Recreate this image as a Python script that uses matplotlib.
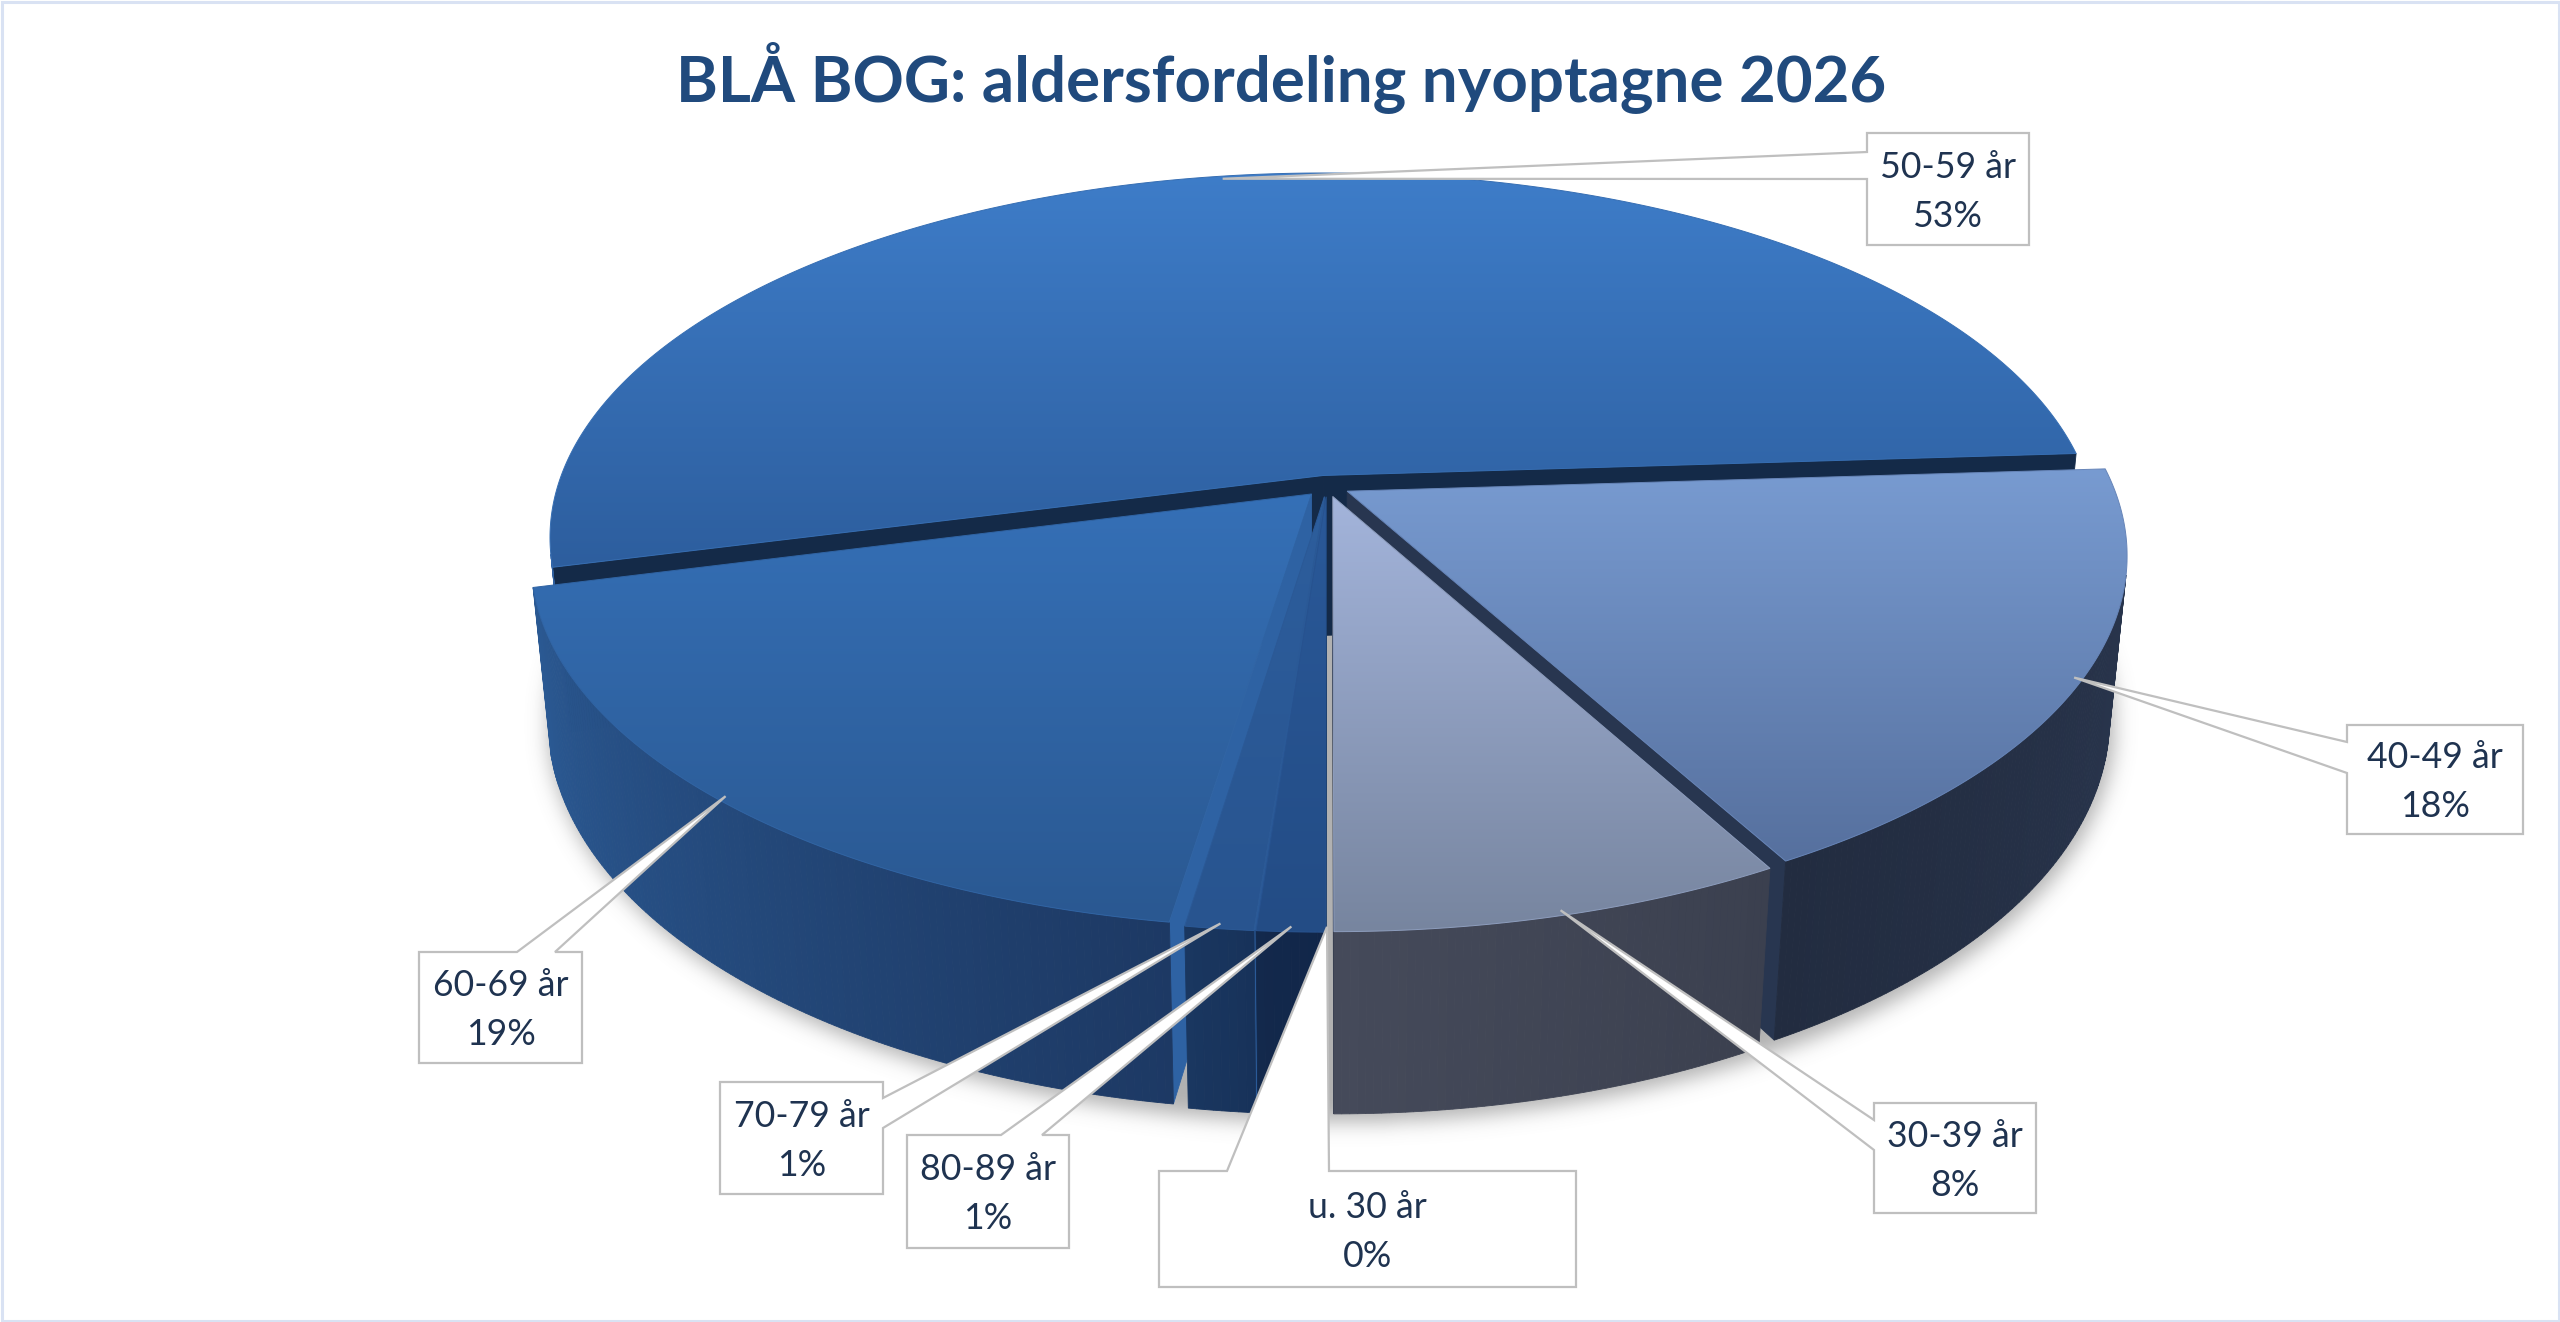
import numpy as np
import matplotlib
matplotlib.use("Agg")
import matplotlib.pyplot as plt
from matplotlib.patches import Polygon, Rectangle
from matplotlib.colors import to_rgb
from matplotlib.path import Path

# ---------------- data ----------------
title = "BLÅ BOG: aldersfordeling nyoptagne 2026"
categories = ["u. 30 år", "30-39 år", "40-49 år", "50-59 år", "60-69 år", "70-79 år", "80-89 år"]
# shares in percent (labels show them rounded)
values = [0, 8, 18, 53, 18.6, 1.2, 1.2]

# ---------------- styles ----------------
top_colors = [("#9fb0d8", "#7a88a6"), ("#a3b4db", "#77859f"), ("#789bd1", "#56709e"),
              ("#3e7dc9", "#2d5e9e"), ("#3570b7", "#2a5891"), ("#2d5e9d", "#28548f"),
              ("#2a5999", "#234c85")]
side_colors = [("#454a5a", "#3b404f"), ("#454a5a", "#3b404f"), ("#222c40", "#2b3851"),
               ("#2f5f9f", "#2f5f9f"), ("#2b5a94", "#1d3964"), ("#1a3760", "#17325a"),
               ("#13294c", "#112649")]
cut_colors = ["#2a3448", "#2a3448", "#283650", "#142a48", "#2e62a3", "#2a5a98", "#133052"]
TEXT_C = "#1f3350"
TITLE_C = "#204a7d"

# label layout: side of box the leader attaches to, box (x0,y0,x1,y1), leader base span
label_side = ["top", "left", "left", "left", "top", "right", "top"]
label_box = [(1159, 1171, 1576, 1287), (1874, 1103, 2036, 1213), (2347, 725, 2523, 834),
             (1867, 133, 2029, 245), (419, 952, 582, 1063), (720, 1082, 883, 1194),
             (907, 1135, 1069, 1248)]
label_base = [(1227, 1329), (1120, 1150), (742, 773), (152, 179), (517, 555),
              (1098, 1128), (1001, 1042)]

W, H = 2560, 1322
fig = plt.figure(figsize=(W / 100, H / 100), dpi=100)
ax = fig.add_axes([0, 0, 1, 1])
ax.set_xlim(0, W)
ax.set_ylim(H, 0)
ax.axis("off")

# ---------------- camera ----------------
ELEV = np.radians(27.8)
DIST = 5.2
FOC = 766 * DIST
CX, CY = 1327, 486
THICK = 0.242
EXPLODE = 0.03
START = -90.0
ce, se = np.cos(ELEV), np.sin(ELEV)
CAM = np.array([0.0, -DIST * ce, DIST * se])


def proj(X, Y, Z):
    X, Y, Z = np.asarray(X, float), np.asarray(Y, float), np.asarray(Z, float)
    ry = Y + DIST * ce
    rz = Z - DIST * se
    depth = ry * ce - rz * se
    yc = ry * se + rz * ce
    return np.stack([CX + FOC * X / depth, CY - FOC * yc / depth], axis=-1)


def lerp(c0, c1, t):
    a, b = np.array(to_rgb(c0)), np.array(to_rgb(c1))
    return tuple((1 - t) * a + t * b)


total = float(sum(values))
edges = START + 360.0 * np.concatenate([[0], np.cumsum(values)]) / total

# ---------------- shadow ----------------
phi = np.radians(np.linspace(0, 360, 361))
sh = proj(1.03 * np.cos(phi), 1.03 * np.sin(phi), -THICK * np.ones_like(phi))
sh[:, 0] += 4
sh[:, 1] += 8
x0s, x1s = int(sh[:, 0].min()) - 60, int(sh[:, 0].max()) + 60
y0s, y1s = int(sh[:, 1].min()) - 60, int(sh[:, 1].max()) + 60
gx, gy = np.meshgrid(np.arange(x0s, x1s, 2), np.arange(y0s, y1s, 2))
mask = Path(sh).contains_points(np.c_[gx.ravel(), gy.ravel()]).reshape(gx.shape).astype(float)
sig = 5.0
ky = np.fft.fftfreq(mask.shape[0])
kx = np.fft.fftfreq(mask.shape[1])
G = np.exp(-2 * (np.pi * sig) ** 2 * (ky[:, None] ** 2 + kx[None, :] ** 2))
blur = np.real(np.fft.ifft2(np.fft.fft2(mask) * G))
rgba = np.zeros(mask.shape + (4,))
rgba[..., :3] = 0.45
rgba[..., 3] = np.clip(blur, 0, 1) * 0.55
ax.imshow(rgba, extent=(x0s, x1s, y1s, y0s), origin="upper", aspect="auto", zorder=1,
          interpolation="bilinear")

# ---------------- pie faces ----------------
faces = []   # (distance, verts, color)
tops = []
anchors = []
for i, v in enumerate(values):
    t1, t2 = edges[i], edges[i + 1]
    mid = np.radians((t1 + t2) / 2)
    ox, oy = EXPLODE * np.cos(mid), EXPLODE * np.sin(mid)
    a = proj(ox + 0.99 * np.cos(mid), oy + 0.99 * np.sin(mid), 0.0)
    anchors.append(a)
    if v <= 0:
        continue
    n = max(3, int((t2 - t1) / 0.5) + 1)
    ang = np.radians(np.linspace(t1, t2, n))
    # outer side segments
    for k in range(n - 1):
        pa, pb = ang[k], ang[k + 1]
        pm = 0.5 * (pa + pb)
        pt = np.array([ox + np.cos(pm), oy + np.sin(pm), -THICK / 2])
        nrm = np.array([np.cos(pm), np.sin(pm), 0.0])
        if np.dot(nrm, CAM - pt) <= 0:
            continue
        X = ox + np.cos([pa, pb, pb, pa])
        Y = oy + np.sin([pa, pb, pb, pa])
        Z = np.array([0, 0, -THICK, -THICK])
        tt = (np.degrees(pm) - t1) / (t2 - t1)
        faces.append((np.linalg.norm(CAM - pt), proj(X, Y, Z),
                      lerp(side_colors[i][0], side_colors[i][1], tt)))
    # radial cut faces
    for tc, sgn in ((t1, -1), (t2, 1)):
        r = np.radians(tc)
        nrm = np.array([np.cos(r + sgn * np.pi / 2), np.sin(r + sgn * np.pi / 2), 0.0])
        pt = np.array([ox + 0.5 * np.cos(r), oy + 0.5 * np.sin(r), -THICK / 2])
        if np.dot(nrm, CAM - pt) <= 0:
            continue
        X = np.array([ox, ox + np.cos(r), ox + np.cos(r), ox])
        Y = np.array([oy, oy + np.sin(r), oy + np.sin(r), oy])
        Z = np.array([0, 0, -THICK, -THICK])
        faces.append((np.linalg.norm(CAM - pt), proj(X, Y, Z), to_rgb(cut_colors[i])))
    # top face
    X = np.concatenate([[ox], ox + np.cos(ang)])
    Y = np.concatenate([[oy], oy + np.sin(ang)])
    tops.append((i, proj(X, Y, np.zeros_like(X))))

z = 2.0
for dist, verts, col in sorted(faces, key=lambda f: -f[0]):
    ax.add_patch(Polygon(verts, closed=True, facecolor=col, edgecolor=col, lw=0.6, zorder=z))
    z += 0.001

z = 10.0
for i, verts in tops:
    c_top, c_bot = top_colors[i]
    clip = Polygon(verts, closed=True, facecolor="none", edgecolor="none", zorder=z)
    ax.add_patch(clip)
    xa, xb = verts[:, 0].min(), verts[:, 0].max()
    ya, yb = verts[:, 1].min(), verts[:, 1].max()
    t = np.linspace(0, 1, 256)[:, None]
    img = ((1 - t) * np.array(to_rgb(c_top)) + t * np.array(to_rgb(c_bot)))[:, None, :]
    im = ax.imshow(img, extent=(xa, xb, yb, ya), origin="upper", aspect="auto", zorder=z,
                   interpolation="bilinear")
    im.set_clip_path(clip)
    ax.add_patch(Polygon(verts, closed=True, facecolor="none",
                         edgecolor=lerp(c_top, c_bot, 0.5), lw=0.7, zorder=z + 0.01))
    z += 0.1

# ---------------- fonts ----------------
renderer = fig.canvas.get_renderer()


def fit_size(txt, target_w, weight, base=30):
    tt = ax.text(0, 0, txt, fontsize=base, family="Lato", weight=weight)
    w = tt.get_window_extent(renderer=renderer).width
    tt.remove()
    return base * target_w / w


title_fs = fit_size(title, 1210, "bold", 40)
label_fs = fit_size("50-59 år", 136, "normal", 24)

ax.text(1281, 101, title, fontsize=title_fs, family="Lato", weight="bold", color=TITLE_C,
        ha="center", va="baseline", zorder=30)

# ---------------- labels with callouts ----------------
cap = 0.72 * label_fs * 100 / 72
for i, name in enumerate(categories):
    bx0, by0, bx1, by1 = label_box[i]
    b1, b2 = label_base[i]
    ap = tuple(anchors[i])
    side = label_side[i]
    if side == "left":
        pts = [(bx0, by0), (bx1, by0), (bx1, by1), (bx0, by1), (bx0, b2), ap, (bx0, b1)]
    elif side == "right":
        pts = [(bx0, by0), (bx1, by0), (bx1, b1), ap, (bx1, b2), (bx1, by1), (bx0, by1)]
    else:
        pts = [(bx0, by0), (b1, by0), ap, (b2, by0), (bx1, by0), (bx1, by1), (bx0, by1)]
    ax.add_patch(Polygon(pts, closed=True, facecolor="white", edgecolor="#bfbfbf",
                         lw=1.6, joinstyle="miter", zorder=40))
    cxb = 0.5 * (bx0 + bx1)
    cyb = 0.5 * (by0 + by1)
    ax.text(cxb, cyb - 24 + cap / 2, name, fontsize=label_fs, family="Lato",
            color=TEXT_C, ha="center", va="baseline", zorder=41)
    ax.text(cxb, cyb + 25 + cap / 2, f"{round(values[i])}%", fontsize=label_fs,
            family="Lato", color=TEXT_C, ha="center", va="baseline", zorder=41)

# ---------------- frame ----------------
ax.add_patch(Rectangle((1.5, 1.5), W - 3, H - 3, facecolor="none", edgecolor="#d9e2f3",
                       lw=2.2, zorder=50))

ax.set_xlim(0, W)
ax.set_ylim(H, 0)
fig.savefig("out.png", dpi=100, facecolor="white")
